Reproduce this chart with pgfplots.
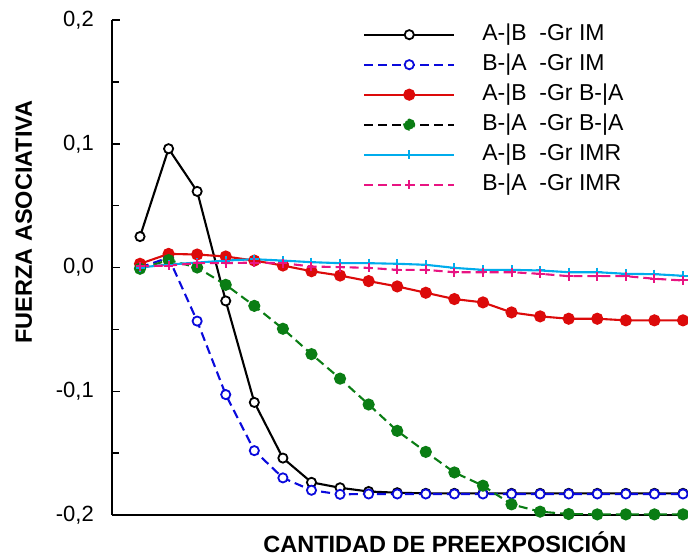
\documentclass[border=0pt]{standalone}
\usepackage{pgfplots}
\pgfplotsset{compat=1.18}
\usepackage{pgfplotstable}
\usepackage{fontspec}
\setmainfont{Liberation Sans}

\definecolor{cIM}{RGB}{0,0,0}
\definecolor{cBlue}{RGB}{10,10,220}
\definecolor{cRed}{RGB}{220,10,10}
\definecolor{cGreen}{RGB}{10,125,20}
\definecolor{cCyan}{RGB}{0,172,236}
\definecolor{cMag}{RGB}{232,20,130}

% columns: A-|B Gr IM, B-|A Gr IM, A-|B Gr B-|A, B-|A Gr B-|A, A-|B Gr IMR, B-|A Gr IMR
\pgfplotstableread{
x  s1      s2      s3      s4      s5      s6
0  0.025   0.000   0.003  -0.001   0.000   0.001
1  0.096   0.008   0.011   0.006   0.0024  0.0016
2  0.0615 -0.0433  0.0105  0.000   0.004   0.0035
3 -0.027  -0.1027  0.0089 -0.014   0.0056  0.0035
4 -0.109  -0.148   0.0056 -0.031   0.0067  0.004
5 -0.154  -0.170   0.0016 -0.0495  0.0056  0.0035
6 -0.1736 -0.180  -0.003  -0.070   0.0043  0.0008
7 -0.178  -0.1833 -0.0065 -0.0898  0.0035  0.0003
8 -0.181  -0.183  -0.011  -0.1107  0.0035 -0.0003
9 -0.182  -0.183  -0.0153 -0.132   0.003  -0.0019
10 -0.1825 -0.183 -0.0204 -0.149   0.0022 -0.0019
11 -0.1825 -0.183 -0.0255 -0.1656 -0.0003 -0.0038
12 -0.1825 -0.183 -0.0282 -0.1763 -0.0019 -0.0038
13 -0.1825 -0.183 -0.0363 -0.1914 -0.0019 -0.0038
14 -0.1825 -0.183 -0.0395 -0.1973 -0.0024 -0.0051
15 -0.1825 -0.183 -0.0414 -0.1992 -0.0038 -0.007
16 -0.1825 -0.183 -0.0414 -0.1995 -0.0038 -0.007
17 -0.1825 -0.183 -0.0427 -0.1995 -0.0051 -0.007
18 -0.1825 -0.183 -0.0427 -0.1995 -0.0054 -0.0091
19 -0.1825 -0.183 -0.0427 -0.1995 -0.0067 -0.0105
}\data

\begin{document}
\begin{tikzpicture}
\path[use as bounding box] (0,0) rectangle (688pt,555pt);
\begin{axis}[
    at={(112pt,40pt)}, anchor=south west,
    scale only axis,
    width=576pt, height=495pt,
    xmin=-0.98, xmax=19.175,
    ymin=-0.2, ymax=0.2,
    clip=false,
    axis lines*=left,
    axis line style={line width=1.8pt},
    xtick=\empty,
    ytick={-0.2,-0.1,0,0.1,0.2},
    yticklabels={{-0,2},{-0,1},{0,0},{0,1},{0,2}},
    minor ytick={-0.15,-0.05,0.05,0.15},
    tick align=inside,
    major tick length=8pt,
    minor tick length=7pt,
    every tick/.style={black, line width=1.5pt},
    yticklabel style={font=\fontsize{22}{26}\selectfont, inner sep=0pt, xshift=-18pt},
    ylabel={\textbf{FUERZA ASOCIATIVA}},
    ylabel style={font=\fontsize{23.5}{27}\selectfont, at={(axis description cs:-0.153,0.592)}, anchor=center, rotate=0},
    xlabel={\textbf{CANTIDAD DE PREEXPOSICIÓN}},
    xlabel style={font=\fontsize{23.5}{27}\selectfont, at={(axis description cs:0.578,-0.0748)}, anchor=base},
    legend image code/.code={
        \draw[mark repeat=2,mark phase=2] plot coordinates {(0pt,0pt) (45pt,0pt) (90pt,0pt)};
    },
    legend style={
        at={(axis description cs:0.4306,0.997)}, anchor=north west,
        draw=none, fill=none,
        font=\fontsize{23}{27}\selectfont,
        nodes={inner sep=0pt, text height=17pt, text depth=5pt},
        row sep=8pt, column sep=27pt,
    },
    legend cell align=left,
    every axis plot/.append style={line width=2.1pt},
]
\addplot[cIM, line width=2.1pt, mark=*, mark size=4.6pt, mark options={solid, fill=white, draw=black, line width=1.8pt}]
    table[x=x, y=s1] {\data};
\addlegendentry{A-|B\ \ -Gr IM}
\addplot[cBlue, line width=2.1pt, dash pattern=on 9pt off 5pt, mark=*, mark size=4.6pt, mark options={solid, fill=white, draw=cBlue, line width=1.8pt}]
    table[x=x, y=s2] {\data};
\addlegendentry{B-|A\ \ -Gr IM}
\addplot[cRed, line width=2.1pt, mark=*, mark size=5pt, mark options={solid, fill=cRed}]
    table[x=x, y=s3] {\data};
\addlegendentry{A-|B\ \ -Gr B-|A}
\addplot[cGreen, line width=2.1pt, dash pattern=on 9pt off 5pt, mark=*, mark size=5pt, mark options={solid, fill=cGreen},
    legend image code/.code={
        \draw[black, line width=2.1pt, dash pattern=on 9pt off 5pt] (0pt,0pt) -- (90pt,0pt);
        \fill[cGreen] (45pt,0pt) circle (5pt);
    }]
    table[x=x, y=s4] {\data};
\addlegendentry{B-|A\ \ -Gr B-|A}
\addplot[cCyan, line width=2.1pt, mark=+, mark size=4.5pt, mark options={solid, line width=2pt}]
    table[x=x, y=s5] {\data};
\addlegendentry{A-|B\ \ -Gr IMR}
\addplot[cMag, line width=2.1pt, dash pattern=on 9pt off 5pt, mark=+, mark size=4.5pt, mark options={solid, line width=2pt}]
    table[x=x, y=s6] {\data};
\addlegendentry{B-|A\ \ -Gr IMR}
\end{axis}
\end{tikzpicture}
\end{document}
